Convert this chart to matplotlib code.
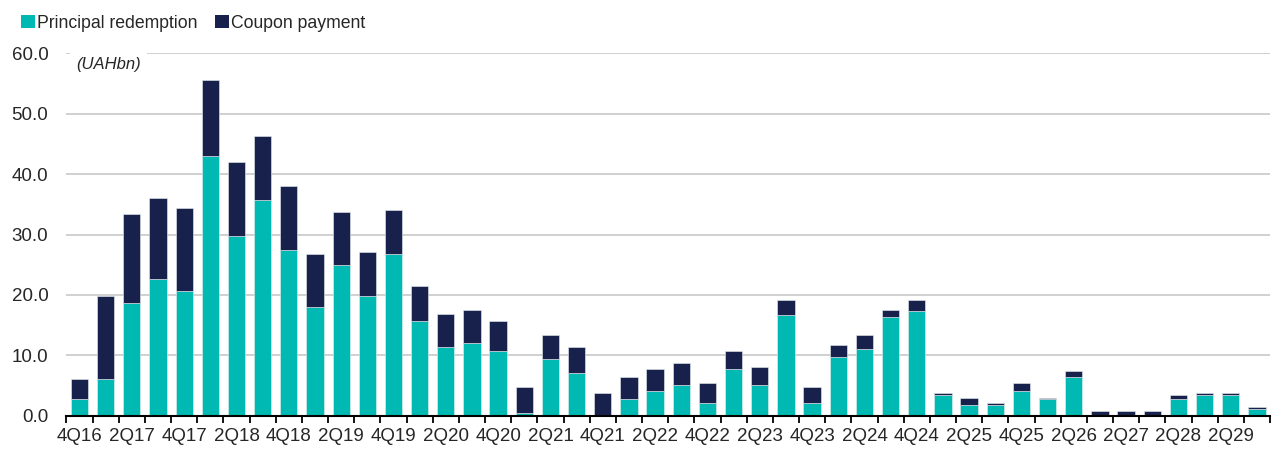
import matplotlib
matplotlib.use("Agg")
import matplotlib.pyplot as plt
from matplotlib.patches import Patch
import numpy as np

plt.rcParams['font.family'] = ['Liberation Sans', 'DejaVu Sans']

quarters = ["4Q16", "1Q17", "2Q17", "3Q17", "4Q17", "1Q18", "2Q18", "3Q18", "4Q18",
            "1Q19", "2Q19", "3Q19", "4Q19", "1Q20", "2Q20", "3Q20", "4Q20",
            "1Q21", "2Q21", "3Q21", "4Q21", "1Q22", "2Q22", "3Q22", "4Q22",
            "1Q23", "2Q23", "3Q23", "4Q23", "1Q24", "2Q24", "3Q24", "4Q24",
            "1Q25", "2Q25", "3Q25", "4Q25", "1Q26", "2Q26", "4Q26", "2Q27",
            "4Q27", "2Q28", "4Q28", "2Q29", "4Q29"]

principal = [2.8, 6.1, 18.6, 22.6, 20.6, 43.0, 29.8, 35.7, 27.5,
             18.0, 24.9, 19.9, 26.8, 15.6, 11.3, 12.0, 10.7,
             0.45, 9.4, 7.1, 0.0, 2.8, 4.1, 5.1, 2.1,
             7.7, 5.1, 16.6, 2.1, 9.7, 11.0, 16.3, 17.3,
             3.4, 1.8, 1.8, 4.1, 2.8, 6.4, 0.0, 0.0,
             0.0, 2.8, 3.4, 3.4, 1.05]

total = [6.0, 19.9, 33.4, 36.0, 34.4, 55.5, 42.0, 46.3, 38.0,
         26.8, 33.7, 27.1, 34.1, 21.5, 16.9, 17.5, 15.6,
         4.7, 13.3, 11.3, 3.7, 6.4, 7.7, 8.7, 5.4,
         10.7, 8.0, 19.2, 4.7, 11.7, 13.3, 17.5, 19.2,
         3.7, 3.0, 2.05, 5.4, 3.0, 7.4, 0.7, 0.7,
         0.7, 3.4, 3.7, 3.7, 1.4]

coupon = [round(t - p, 2) for t, p in zip(total, principal)]

yticks = [0, 10, 20, 30, 40, 50, 60]

teal = "#00B9B2"
navy = "#17214B"
text_color = "#262626"

fig = plt.figure(figsize=(12.76, 4.51), dpi=100)
ax = fig.add_axes([66.4 / 1276, 35.3 / 451, (1270.0 - 66.4) / 1276, (415.7 - 53.3) / 451])

x = np.arange(len(quarters))
w = 0.66
ax.bar(x, principal, width=w, color=teal, edgecolor="#E6F0F0", linewidth=0.4, zorder=3)
ax.bar(x, coupon, width=w, bottom=principal, color=navy, edgecolor="#E6F0F0", linewidth=0.4, zorder=3)

ax.set_xlim(-0.5, len(quarters) - 0.5)
ax.set_ylim(0, 60)
ax.set_yticks(yticks)
ax.set_yticklabels([f"{v:.1f}" for v in yticks])

ax.yaxis.grid(True, color="#C8C8C8", linewidth=1.2, zorder=0)
ax.set_axisbelow(True)

for s in ["top", "right", "left"]:
    ax.spines[s].set_visible(False)
ax.spines["bottom"].set_color("black")
ax.spines["bottom"].set_linewidth(1.5)
ax.spines["bottom"].set_zorder(5)

ax.set_xticks(x[::2])
ax.set_xticklabels(quarters[::2])
ax.set_xticks(np.arange(-0.5, len(quarters), 1.0), minor=True)
ax.tick_params(axis="x", which="major", length=0, pad=9, labelsize=13.5, colors=text_color)
ax.tick_params(axis="x", which="minor", length=5, width=1.3, color="black", direction="out")
ax.tick_params(axis="y", which="both", length=0, pad=13, labelsize=13.5, colors=text_color)

fig.text(76 / 1276, 1 - 65 / 451, "(UAHbn)", fontsize=12, style="italic",
         color=text_color, va="center", ha="left", zorder=10,
         bbox=dict(facecolor="white", edgecolor="none", pad=4.5))

handles = [Patch(facecolor=teal, edgecolor="none", label="Principal redemption"),
           Patch(facecolor=navy, edgecolor="none", label="Coupon payment")]
fig.legend(handles=handles, loc="center left", bbox_to_anchor=(14 / 1276, 1 - 23 / 451),
           ncol=2, frameon=False, fontsize=12.7, handlelength=0.8, handleheight=0.8,
           handletextpad=0.1, columnspacing=1.0, labelcolor=text_color, borderaxespad=0)

fig.savefig("out.png", dpi=100)
